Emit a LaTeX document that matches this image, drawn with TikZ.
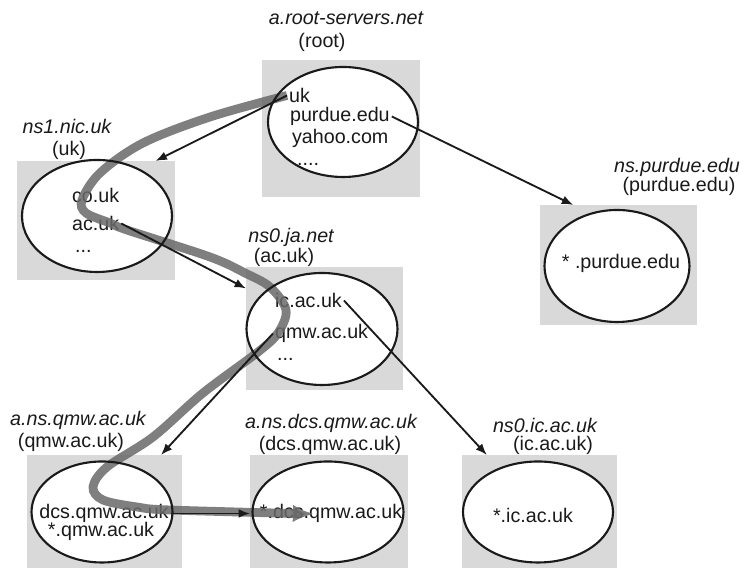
\documentclass[tikz,border=0pt]{standalone}
\usepackage{fontspec}
\setmainfont{Liberation Sans}
\usetikzlibrary{arrows.meta,calc,shapes.geometric}
\definecolor{Panel}{HTML}{D9D9D9}
\definecolor{Route}{HTML}{696969}
\definecolor{Ink}{HTML}{1A1A1A}

\begin{document}
\begin{tikzpicture}[
  panel/.style={rectangle,fill=Panel,inner sep=0pt,outer sep=0pt},
  server/.style={ellipse,fill=white,inner sep=0pt,outer sep=0pt},
  ring/.style={draw=Ink,line width=1.2pt},
  entry/.style={anchor=west,inner sep=1pt,font=\fontsize{11.2}{13}\selectfont,text=Ink},
  hostname/.style={inner sep=1pt,font=\fontsize{11.2}{13}\selectfont\itshape,text=Ink},
  zonename/.style={inner sep=1pt,font=\fontsize{11.2}{13}\selectfont,text=Ink},
  link/.style={draw=Ink,line width=1.05pt,-{Latex[length=6.5pt,width=5pt]}},
  route/.style={draw=Route,opacity=0.85,line width=5pt,-{Latex[length=12pt,width=10pt]}}
]
\useasboundingbox (0,0) rectangle (14.88,11.44);
% zones
\node[panel,minimum width=3.16cm,minimum height=2.74cm] (rootbox) at (6.82,8.87) {};
\node[panel,minimum width=3.16cm,minimum height=2.38cm] (nicbox) at (1.92,7.03) {};
\node[panel,minimum width=3.14cm,minimum height=2.46cm] (jabox) at (6.49,4.87) {};
\node[panel,minimum width=3.14cm,minimum height=2.40cm] (purduebox) at (12.37,6.14) {};
\node[panel,minimum width=3.10cm,minimum height=2.26cm] (qmwbox) at (2.09,1.21) {};
\node[panel,minimum width=3.16cm,minimum height=2.26cm] (dcsbox) at (6.58,1.21) {};
\node[panel,minimum width=3.10cm,minimum height=2.26cm] (icbox) at (10.79,1.21) {};
% name servers
\node[server,minimum width=3.0cm,minimum height=2.2cm] (root) at (6.86,9.00) {};
\node[server,minimum width=3.0cm,minimum height=2.24cm] (nic) at (1.94,7.12) {};
\node[server,minimum width=3.02cm,minimum height=2.24cm] (janet) at (6.44,4.86) {};
\node[server,minimum width=2.9cm,minimum height=2.24cm] (purdue) at (12.34,6.12) {};
\node[server,minimum width=2.82cm,minimum height=2.02cm] (qmw) at (2.04,1.20) {};
\node[server,minimum width=3.02cm,minimum height=2.02cm] (dcs) at (6.56,1.20) {};
\node[server,minimum width=3.0cm,minimum height=2.02cm] (ic) at (10.76,1.20) {};
% zone entries
\node[entry] (rootUk) at (5.74,9.53) {uk};
\node[entry] (rootPurdue) at (5.76,9.11) {purdue.edu};
\node[entry] (rootYahoo) at (5.80,8.67) {yahoo.com};
\node[entry] (rootMore) at (5.90,8.16) {....};
\node[entry] (nicCo) at (1.40,7.53) {co.uk};
\node[entry] (nicAc) at (1.40,6.97) {ac.uk};
\node[entry] (nicMore) at (1.46,6.42) {...};
\node[entry] (janetIc) at (5.46,5.43) {ic.ac.uk};
\node[entry] (janetQmw) at (5.46,4.77) {qmw.ac.uk};
\node[entry] (janetMore) at (5.50,4.26) {...};
\node[entry,anchor=center] (purdueAll) at (12.42,6.17) {* .purdue.edu};
\node[entry,anchor=center] (qmwDcs) at (2.08,1.17) {dcs.qmw.ac.uk};
\node[entry,anchor=center] (qmwAll) at (2.02,0.81) {*.qmw.ac.uk};
\node[entry,anchor=center] (dcsAll) at (6.62,1.17) {*.dcs.qmw.ac.uk};
\node[entry,anchor=center] (icAll) at (10.66,1.13) {*.ic.ac.uk};
% resolution of a name under dcs.qmw.ac.uk
\draw[route] plot[smooth,tension=0.55] coordinates {(rootUk.west) (4.20,9.10) (2.86,8.58) (2.00,7.98) (1.64,7.44) (1.72,7.18) (2.20,6.98) (2.54,6.84) (4.20,6.30) (4.90,5.98) (5.40,5.70) (5.72,5.24) (5.56,4.78) (5.16,4.40) (4.06,3.58) (3.06,2.70) (2.14,2.10) (1.86,1.70) (2.06,1.44) (2.74,1.30) (3.40,1.24) (6.28,1.16)};
\foreach \s in {root,nic,janet,purdue,qmw,dcs,ic}
  \draw[ring] let \p1=($(\s.east)-(\s.center)$), \p2=($(\s.north)-(\s.center)$) in (\s.center) ellipse [x radius=\x1,y radius=\y2];
% delegations
\draw[link] (rootUk.west) -- (nicbox.45);
\draw[link] (rootPurdue.east) -- (purduebox.127);
\draw[link] (nicAc.east) -- (jabox.153);
\draw[link] (janetIc.east) -- (icbox.133);
\draw[link] (janetQmw.west) -- (qmwbox.45);
\draw[link] (qmwDcs.east) -- (qmwDcs.east -| dcsbox.west);
% server names and their zones
\node[hostname] (rootName) at (6.92,11.08) {a.root-servers.net};
\node[zonename] (rootZone) at (6.44,10.60) {(root)};
\node[hostname] (nicName) at (1.34,8.92) {ns1.nic.uk};
\node[zonename] (nicZone) at (1.38,8.44) {(uk)};
\node[hostname] (janetName) at (5.82,6.70) {ns0.ja.net};
\node[zonename] (janetZone) at (5.68,6.30) {(ac.uk)};
\node[hostname] (purdueName) at (13.54,8.10) {ns.purdue.edu};
\node[zonename] (purdueZone) at (13.58,7.72) {(purdue.edu)};
\node[hostname] (qmwName) at (1.56,3.04) {a.ns.qmw.ac.uk};
\node[zonename] (qmwZone) at (1.42,2.60) {(qmw.ac.uk)};
\node[hostname] (dcsName) at (6.62,2.98) {a.ns.dcs.qmw.ac.uk};
\node[zonename] (dcsZone) at (6.60,2.54) {(dcs.qmw.ac.uk)};
\node[hostname] (icName) at (10.90,2.94) {ns0.ic.ac.uk};
\node[zonename] (icZone) at (11.06,2.54) {(ic.ac.uk)};
\end{tikzpicture}
\end{document}
